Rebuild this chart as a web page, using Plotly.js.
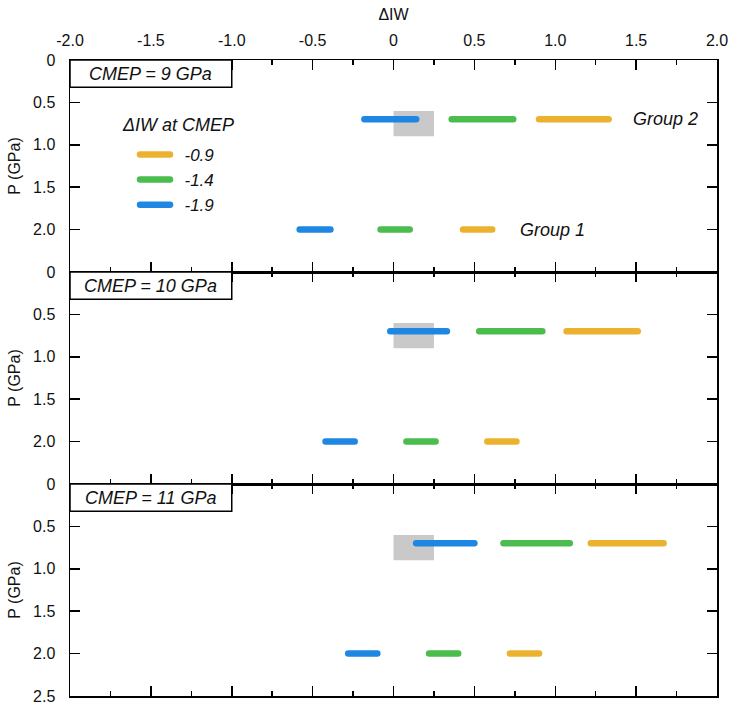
<!DOCTYPE html>
<html>
<head>
<meta charset="utf-8">
<script src="https://cdn.plot.ly/plotly-3.0.1.min.js"></script>
<style>
  html, body { margin: 0; padding: 0; background: #fff; }
  #chart { width: 731px; height: 710px; }
</style>
</head>
<body>
<div id="chart"></div>
<script>
// ---- data ----
const panelLabels = ["CMEP = 9 GPa", "CMEP = 10 GPa", "CMEP = 11 GPa"];
const legendTitle = "ΔIW at CMEP";
const seriesNames = ["-0.9", "-1.4", "-1.9"];
const seriesColors = ["#ECB22F", "#4BBC4E", "#1E87E2"];
const groupNames = ["Group 2", "Group 1"];
const groupP = [0.7, 2.0];                 // pressure (GPa) of Group 2 and Group 1

// ΔIW ranges [start, end] per panel (9, 10, 11 GPa)
const iw09Group2 = [[0.90, 1.33], [1.07, 1.51], [1.22, 1.67]];
const iw09Group1 = [[0.43, 0.61], [0.58, 0.76], [0.72, 0.90]];
const iw14Group2 = [[0.36, 0.74], [0.53, 0.92], [0.68, 1.09]];
const iw14Group1 = [[-0.08, 0.10], [0.08, 0.26], [0.22, 0.40]];
const iw19Group2 = [[-0.18, 0.14], [-0.02, 0.33], [0.14, 0.50]];
const iw19Group1 = [[-0.58, -0.39], [-0.42, -0.24], [-0.28, -0.10]];

// grey reference box (ΔIW range and P range)
const refBoxIW = [0, 0.25];
const refBoxP = [0.6, 0.9];

// tick labels
const xTickVals = [-2, -1.5, -1, -0.5, 0, 0.5, 1, 1.5, 2];
const xTickText = ["-2.0", "-1.5", "-1.0", "-0.5", "0", "0.5", "1.0", "1.5", "2.0"];
const yTickVals = [0, 0.5, 1, 1.5, 2];
const yTickText = ["0", "0.5", "1.0", "1.5", "2.0"];
const yTickValsLast = [0, 0.5, 1, 1.5, 2, 2.5];
const yTickTextLast = ["0", "0.5", "1.0", "1.5", "2.0", "2.5"];

// ---- build ----
const FONT = "Liberation Sans, Arial, sans-serif";
const ITALIC = { family: FONT, size: 18, color: "#111", style: "italic" };
const seriesG2 = [iw09Group2, iw14Group2, iw19Group2];
const seriesG1 = [iw09Group1, iw14Group1, iw19Group1];
const PAD = "\u00A0\u00A0";

const traces = [];
for (let p = 0; p < 3; p++) {
  const ax = p === 0 ? "" : String(p + 1);
  for (let s = 0; s < 3; s++) {
    const g2 = seriesG2[s][p], g1 = seriesG1[s][p];
    traces.push({
      type: "scatter", mode: "lines",
      x: [g2[0], g2[1], null, g1[0], g1[1]],
      y: [groupP[0], groupP[0], null, groupP[1], groupP[1]],
      xaxis: "x" + ax, yaxis: "y" + ax,
      line: { color: seriesColors[s], width: 6.5 },
      name: PAD + seriesNames[s],
      legendgroup: seriesNames[s],
      legendrank: s + 1,
      showlegend: p === 0,
      hoverinfo: "skip"
    });
  }
}

const shapes = [];
const annotations = [];
for (let p = 0; p < 3; p++) {
  const ax = p === 0 ? "" : String(p + 1);
  shapes.push({
    type: "rect", xref: "x" + ax, yref: "y" + ax,
    x0: refBoxIW[0], x1: refBoxIW[1], y0: refBoxP[0], y1: refBoxP[1],
    fillcolor: "#C9C9C9", line: { width: 0 }, layer: "below"
  });
  shapes.push({
    type: "rect", xref: "x" + ax, yref: "y" + ax,
    x0: -2, x1: -1, y0: 0, y1: 0.32,
    fillcolor: "#ffffff", line: { color: "#000", width: 1.5 }, layer: "above"
  });
  annotations.push({
    xref: "x" + ax, yref: "y" + ax, x: -1.5, y: 0.16,
    text: panelLabels[p], showarrow: false, font: ITALIC
  });
}
annotations.push({
  xref: "x", yref: "y", x: 1.47, y: groupP[0], xanchor: "left",
  text: groupNames[0], showarrow: false, font: ITALIC
});
annotations.push({
  xref: "x", yref: "y", x: 0.77, y: groupP[1], xanchor: "left",
  text: groupNames[1], showarrow: false, font: ITALIC
});
annotations.push({
  xref: "x", yref: "y", x: -1.33, y: 0.77, xanchor: "center",
  text: legendTitle, showarrow: false, font: ITALIC
});

function xAxis(anchor, first) {
  return {
    range: [-2, 2], anchor: anchor, matches: first ? undefined : "x",
    side: "top", showticklabels: first,
    tickmode: "array", tickvals: xTickVals, ticktext: xTickText,
    ticks: "inside", ticklen: 10, tickwidth: 1.5, tickcolor: "#000",
    minor: { tickmode: "linear", tick0: 0, dtick: 0.25, ticks: "inside", ticklen: 5, tickwidth: 1.5, tickcolor: "#000" },
    showline: true, linecolor: "#000", linewidth: 1.5, mirror: "ticks",
    showgrid: false, zeroline: false,
    tickfont: { family: FONT, size: 16, color: "#111" },
    ticklabelstandoff: 6,
    title: first ? { text: "ΔIW", font: { family: FONT, size: 16, color: "#111" }, standoff: 7 } : undefined
  };
}
function yAxis(anchor, domain, last) {
  return {
    range: [2.5, 0], anchor: anchor, domain: domain,
    tickmode: "array",
    tickvals: last ? yTickValsLast : yTickVals,
    ticktext: last ? yTickTextLast : yTickText,
    ticks: "inside", ticklen: 10, tickwidth: 1.5, tickcolor: "#000",
    showline: true, linecolor: "#000", linewidth: 1.5, mirror: "ticks",
    showgrid: false, zeroline: false,
    tickfont: { family: FONT, size: 16, color: "#111" },
    ticklabelstandoff: 10,
    title: { text: "P (GPa)", font: { family: FONT, size: 16, color: "#111" }, standoff: 8 }
  };
}

const layout = {
  width: 731, height: 710,
  margin: { l: 70, r: 14, t: 60, b: 14 },
  paper_bgcolor: "#fff", plot_bgcolor: "#fff",
  font: { family: FONT, color: "#111" },
  xaxis: xAxis("y", true),
  xaxis2: xAxis("y2", false),
  xaxis3: xAxis("y3", false),
  yaxis: yAxis("x", [2 / 3, 1], false),
  yaxis2: yAxis("x2", [1 / 3, 2 / 3], false),
  yaxis3: yAxis("x3", [0, 1 / 3], true),
  showlegend: true,
  legend: {
    x: 0.1005, y: 0.879, xanchor: "left", yanchor: "top",
    bgcolor: "rgba(0,0,0,0)", borderwidth: 0,
    font: { family: FONT, size: 17, color: "#111", style: "italic" },
    itemwidth: 30, tracegroupgap: 0
  },
  shapes: shapes,
  annotations: annotations
};

Plotly.newPlot("chart", traces, layout, { staticPlot: true, displayModeBar: false }).then(function () {
  document.querySelectorAll(".scatterlayer path.js-line, .legend path.js-line").forEach(function (el) {
    el.style.strokeLinecap = "round";
  });
});
</script>
</body>
</html>
